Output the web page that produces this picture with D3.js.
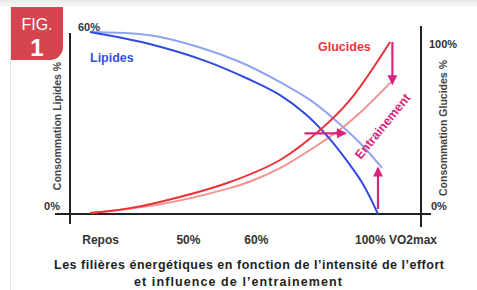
<!DOCTYPE html>
<html>
<head>
<meta charset="utf-8">
<script src="https://cdn.jsdelivr.net/npm/d3@7"></script>
<style>
  body { margin: 0; background: #fff; }
  text { font-family: "Liberation Sans", Arial, sans-serif; }
</style>
</head>
<body>
<div id="graph1"></div>
<script>
// Data (x = relative intensity units, 0 = rest, 100 = VO2max)
const lipX      = [0, 20, 40, 55, 66, 75, 83, 90, 95, 100];
const lipY      = [60, 56.2, 50.5, 44.5, 39.2, 32.8, 25, 16.5, 9.5, 0];
const lipTrX    = [0, 20.8, 38.2, 52.1, 66, 76.4, 84.4, 93.75, 101.4];
const lipTrY    = [60, 58.9, 54.9, 50.1, 43.5, 37.6, 31.6, 23.4, 15.2];
const gluX      = [0, 12.2, 24.3, 47.6, 66, 79.9, 90.3, 104.2];
const gluY      = [0.6, 2.9, 7, 18, 31.4, 48.8, 66.3, 100];
const gluTrX    = [0, 24.3, 47.6, 55.6, 66, 76.4, 87.5, 94.4, 104.5];
const gluTrY    = [0.6, 5.6, 14.6, 18.9, 26.7, 37.2, 50, 59.9, 76.7];

const tickPos    = [3.5, 34, 57.6, 96];
const tickLabels = ["Repos", "50%", "60%", "100% VO2max"];

const width = 477, height = 290;

let svg = d3.select("#graph1")
    .append("svg")
    .attr("width", width)
    .attr("height", height);

// card frame
let grad = svg.append("defs").append("linearGradient")
    .attr("id", "topShade").attr("x1", 0).attr("x2", 0).attr("y1", 0).attr("y2", 1);
grad.append("stop").attr("offset", "0%").attr("stop-color", "#e9e9e9");
grad.append("stop").attr("offset", "100%").attr("stop-color", "#fbfbfb");
svg.append("rect").attr("x", 0).attr("y", 0).attr("width", width).attr("height", 7)
    .attr("fill", "url(#topShade)");
svg.append("line").attr("x1", 10.5).attr("x2", 10.5).attr("y1", 7).attr("y2", height)
    .attr("stroke", "#e4e4e4");

// FIG badge
svg.append("path")
    .attr("d", "M11,7 H63 V47 A13,13 0 0 1 50,60 H11 Z")
    .attr("fill", "#d6454e");
svg.append("text").attr("x", 37).attr("y", 30).attr("text-anchor", "middle")
    .attr("fill", "#fff").style("font-family", "'Liberation Sans Narrow', 'Liberation Sans', sans-serif")
    .style("font-size", "16px").text("FIG.");
svg.append("text").attr("x", 37).attr("y", 56).attr("text-anchor", "middle")
    .attr("fill", "#fff").style("font-family", "'Liberation Sans Narrow', 'Liberation Sans', sans-serif")
    .style("font-size", "24px").style("font-weight", "bold").text("1");

// scales
let x = d3.scaleLinear().domain([0, 100]).range([90, 378]);
let yL = d3.scaleLinear().domain([0, 60]).range([214, 32]);
let yR = d3.scaleLinear().domain([0, 100]).range([214, 42]);

// axes lines
svg.append("line").attr("x1", 70).attr("x2", 70).attr("y1", 33).attr("y2", 224)
    .attr("stroke", "#222").attr("stroke-width", 2);
svg.append("line").attr("x1", 421).attr("x2", 421).attr("y1", 26).attr("y2", 227)
    .attr("stroke", "#222").attr("stroke-width", 2);
svg.append("line").attr("x1", 55).attr("x2", 431).attr("y1", 214).attr("y2", 214)
    .attr("stroke", "#222").attr("stroke-width", 2);

// x tick labels through an axis
let xAxis = svg.append("g")
    .attr("transform", "translate(0, 232)")
    .call(d3.axisBottom(x).tickValues(tickPos).tickSize(0)
        .tickFormat((d, i) => tickLabels[i]));
xAxis.select(".domain").remove();
xAxis.selectAll("text")
    .style("font-family", "'Liberation Sans', Arial, sans-serif")
    .style("font-size", "12px").style("font-weight", "bold").attr("fill", "#333")
    .attr("text-anchor", (d, i) => i === 3 ? "start" : "middle")
    .attr("dx", (d, i) => i === 3 ? "-12" : "0");

// y end labels
const lbl = (tx, ty, t, anchor) => svg.append("text").attr("x", tx).attr("y", ty)
    .attr("text-anchor", anchor || "start").attr("fill", "#333")
    .style("font-size", "11px").style("font-weight", "bold").text(t);
lbl(78, yL(60) - 1, "60%");
lbl(60, yL(0) - 4, "0%", "end");
lbl(429, yR(100) + 6, "100%");
lbl(431, yR(0) - 4, "0%");

// rotated axis titles
svg.append("text").attr("transform", `translate(61, 126) rotate(-90)`)
    .attr("text-anchor", "middle").attr("fill", "#444")
    .style("font-size", "10.5px").style("font-weight", "bold")
    .text("Consommation Lipides %");
svg.append("text").attr("transform", `translate(447, 128) rotate(-90)`)
    .attr("text-anchor", "middle").attr("fill", "#444")
    .style("font-size", "10.5px").style("font-weight", "bold")
    .text("Consommation Glucides %");

// curves
const series = [
    {xs: lipTrX, ys: lipTrY, y: yL, color: "#8ea5f1"},
    {xs: gluTrX, ys: gluTrY, y: yR, color: "#f5928e"},
    {xs: lipX, ys: lipY, y: yL, color: "#2f4be3"},
    {xs: gluX, ys: gluY, y: yR, color: "#ec3137"}
];
series.forEach(function (s) {
    let line = d3.line()
        .x(d => x(d[0]))
        .y(d => s.y(d[1]))
        .curve(d3.curveCatmullRom.alpha(0.5));
    svg.append("path")
        .datum(d3.zip(s.xs, s.ys))
        .attr("d", line)
        .attr("fill", "none")
        .attr("stroke", s.color)
        .attr("stroke-width", 2);
});

// series labels
svg.append("text").attr("x", 90).attr("y", 62).attr("fill", "#3350e2")
    .style("font-size", "12.5px").style("font-weight", "bold").text("Lipides");
svg.append("text").attr("x", 318).attr("y", 51).attr("fill", "#ec3540")
    .style("font-size", "12.5px").style("font-weight", "bold").text("Glucides");

// training arrows
const pink = "#d8247a";
svg.select("defs").append("marker")
    .attr("id", "head").attr("viewBox", "0 0 10 10")
    .attr("refX", 8).attr("refY", 5)
    .attr("markerWidth", 5).attr("markerHeight", 4.5)
    .attr("orient", "auto")
    .append("path").attr("d", "M0,0 L10,5 L0,10 Z").attr("fill", pink);

const arrows = [
    [[105, yR(100)], [105, yR(76)]],
    [[100, yL(0) - 5], [100, yL(15)]],
    [[74.5, yL(26.6)], [88.5, yL(26.6)]]
];
arrows.forEach(function (a) {
    svg.append("line")
        .attr("x1", x(a[0][0])).attr("y1", a[0][1])
        .attr("x2", x(a[1][0])).attr("y2", a[1][1])
        .attr("stroke", pink).attr("stroke-width", 2.2)
        .attr("marker-end", "url(#head)");
});

svg.append("text").attr("transform", "translate(386, 129) rotate(-51)")
    .attr("text-anchor", "middle").attr("fill", pink)
    .style("font-size", "12.5px").style("font-weight", "bold").text("Entrainement");

// caption
svg.append("text").attr("x", 249).attr("y", 269).attr("text-anchor", "middle")
    .attr("fill", "#222").style("font-size", "12.5px").style("font-weight", "bold")
    .attr("textLength", 390).attr("lengthAdjust", "spacing")
    .text("Les filières énergétiques en fonction de l’intensité de l’effort");
svg.append("text").attr("x", 238).attr("y", 286).attr("text-anchor", "middle")
    .attr("fill", "#222").style("font-size", "12.5px").style("font-weight", "bold")
    .attr("textLength", 208).attr("lengthAdjust", "spacing")
    .text("et influence de l’entrainement");
</script>
</body>
</html>
